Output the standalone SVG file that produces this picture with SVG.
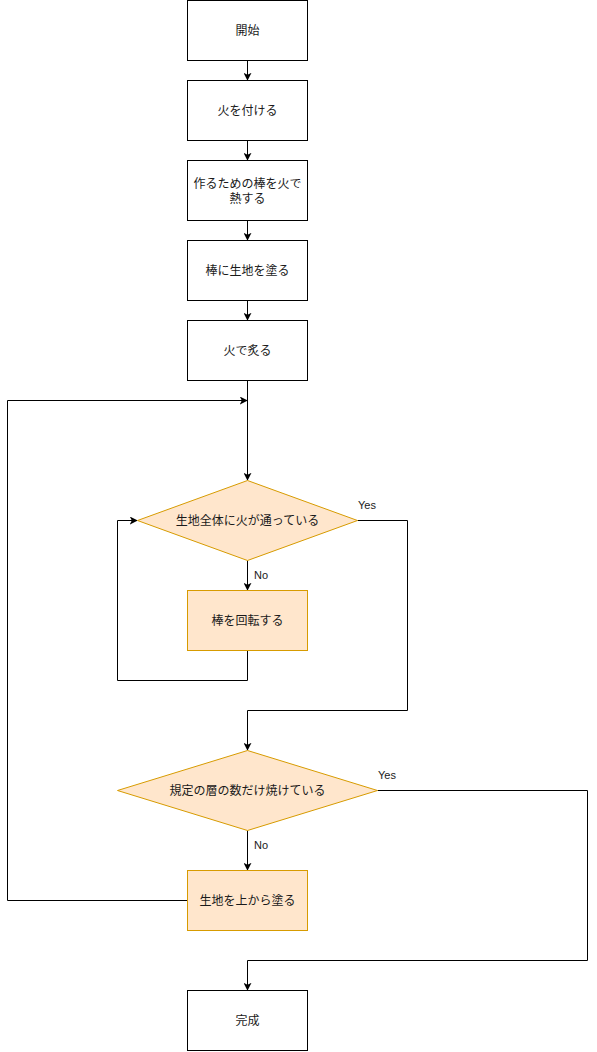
<svg xmlns="http://www.w3.org/2000/svg" width="597" height="1052" viewBox="0 0 597 1052">
<defs>
<marker id="arr" viewBox="0 0 10 10" refX="9" refY="5" markerWidth="8" markerHeight="8" markerUnits="userSpaceOnUse" orient="auto">
<path d="M0,0 L10,5 L0,10 L2.5,5 Z" fill="#000"/>
</marker>
<style>
.box{fill:#fff;stroke:#000;stroke-width:1}
.org{fill:#ffe6cc;stroke:#d79b00;stroke-width:1}
.t{font-family:"Noto Sans CJK JP","Liberation Sans",sans-serif;font-size:12px;fill:#1a1a1a;text-anchor:middle;dominant-baseline:central}
.lbl{font-family:"Liberation Sans","Noto Sans CJK JP",sans-serif;font-size:11px;fill:#1a1a1a}
.c{fill:none;stroke:#000;stroke-width:1;marker-end:url(#arr)}
</style>
</defs>
<rect width="597" height="1052" fill="#fff"/>
<g id="connectors">
<path class="c" d="M247.5,60.5 V80"/>
<path class="c" d="M247.5,140.5 V160"/>
<path class="c" d="M247.5,220.5 V240"/>
<path class="c" d="M247.5,300.5 V320"/>
<path class="c" d="M247.5,380.5 V480"/>
<path class="c" d="M247.5,560.5 V590"/>
<path class="c" d="M247.5,650.5 V680.5 H117.5 V520.5 H137"/>
<path class="c" d="M357.5,520.5 H407.5 V710.5 H247.5 V750"/>
<path class="c" d="M247.5,830.5 V870"/>
<path class="c" d="M187.5,900.5 H7.5 V400.5 H247"/>
<path class="c" d="M377.5,790.5 H587.5 V960.5 H247.5 V990"/>
<text class="lbl" x="358" y="509">Yes</text>
<text class="lbl" x="254" y="579">No</text>
<text class="lbl" x="378" y="779">Yes</text>
<text class="lbl" x="254" y="849">No</text>
</g>
<g id="start"><rect class="box" x="187.5" y="0.5" width="120" height="60"/><text class="t" x="247.5" y="29.5">開始</text></g>
<g id="fire"><rect class="box" x="187.5" y="80.5" width="120" height="60"/><text class="t" x="247.5" y="109.5">火を付ける</text></g>
<g id="heat"><rect class="box" x="187.5" y="160.5" width="120" height="60"/><text class="t" x="247.5" y="182.5">作るための棒を火で</text><text class="t" x="247.5" y="197.5">熱する</text></g>
<g id="coat"><rect class="box" x="187.5" y="240.5" width="120" height="60"/><text class="t" x="247.5" y="269.5">棒に生地を塗る</text></g>
<g id="roast"><rect class="box" x="187.5" y="320.5" width="120" height="60"/><text class="t" x="247.5" y="349.5">火で炙る</text></g>
<g id="check1"><path class="org" d="M247.5,480.5 L357.5,520.5 L247.5,560.5 L137.5,520.5 Z"/><text class="t" x="247.5" y="519.5">生地全体に火が通っている</text></g>
<g id="rotate"><rect class="org" x="187.5" y="590.5" width="120" height="60"/><text class="t" x="247.5" y="619.5">棒を回転する</text></g>
<g id="check2"><path class="org" d="M247.5,750.5 L377.5,790.5 L247.5,830.5 L117.5,790.5 Z"/><text class="t" x="247.5" y="789.5">規定の層の数だけ焼けている</text></g>
<g id="recoat"><rect class="org" x="187.5" y="870.5" width="120" height="60"/><text class="t" x="247.5" y="899.5">生地を上から塗る</text></g>
<g id="done"><rect class="box" x="187.5" y="990.5" width="120" height="60"/><text class="t" x="247.5" y="1019.5">完成</text></g>
</svg>
